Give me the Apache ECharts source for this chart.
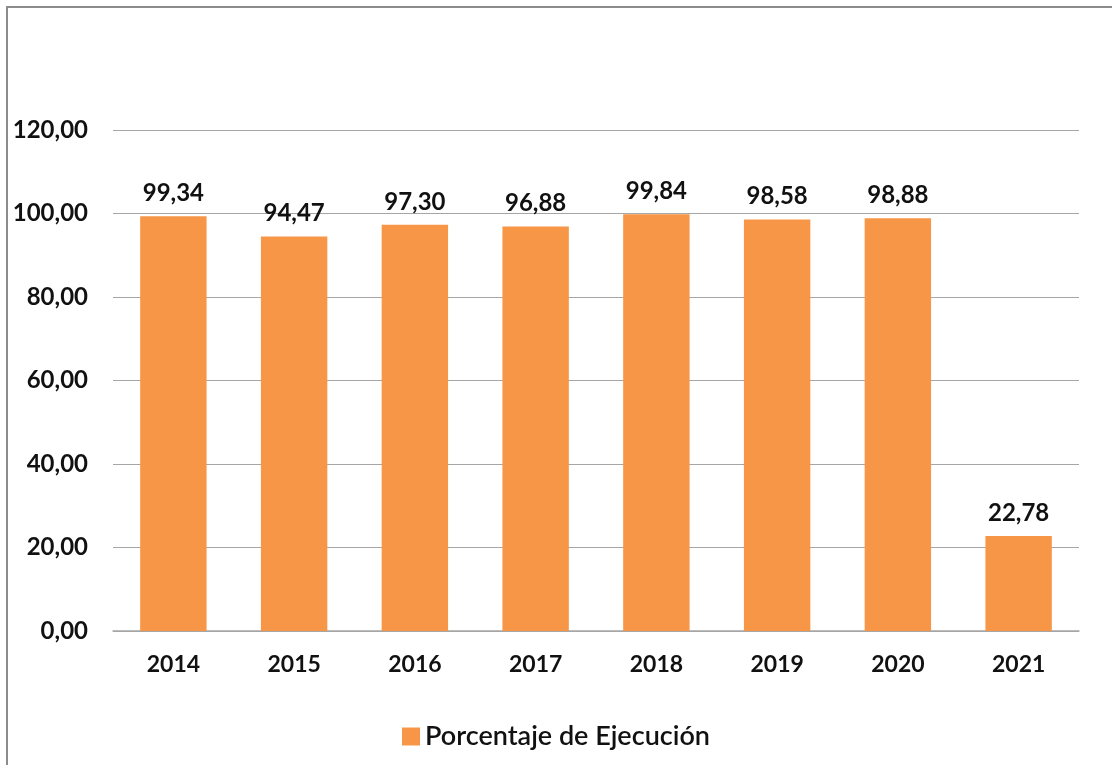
<!DOCTYPE html>
<html>
<head>
<meta charset="utf-8">
<script src="https://cdn.jsdelivr.net/npm/echarts@6/dist/echarts.min.js"></script>
<style>
  html, body { margin: 0; padding: 0; background: #fff; }
  #chart { width: 1112px; height: 765px; }
</style>
</head>
<body>
<div id="chart"></div>
<script>
const years = ['2014', '2015', '2016', '2017', '2018', '2019', '2020', '2021'];
const ejecucion = [99.34, 94.47, 97.30, 96.88, 99.84, 98.58, 98.88, 22.78];

const fmt = v => v.toFixed(2).replace('.', ',');

const myChart = echarts.init(document.getElementById('chart'));

myChart.setOption({
  animation: false,
  textStyle: { fontFamily: 'Lato, "Open Sans", sans-serif' },
  graphic: [{
    type: 'rect',
    shape: { x: 7, y: 7, width: 1200, height: 800 },
    style: { fill: 'none', stroke: '#8c8c8c', lineWidth: 2 },
    silent: true
  }],
  grid: { left: 113, right: 33, top: 130, bottom: 134 },
  legend: {
    bottom: 10,
    left: 'center',
    itemWidth: 18,
    itemHeight: 18,
    itemGap: 8,
    icon: 'rect',
    textStyle: { fontSize: 27, color: '#111', fontWeight: 600 },
    data: ['Porcentaje de Ejecución']
  },
  xAxis: {
    type: 'category',
    data: years,
    axisTick: { show: false },
    axisLine: { lineStyle: { color: '#a6a6a6', width: 1.5 } },
    axisLabel: { fontSize: 23, fontWeight: 'bold', color: '#111', margin: 22 }
  },
  yAxis: {
    type: 'value',
    min: 0,
    max: 120,
    interval: 20,
    axisLine: { show: false },
    axisTick: { show: false },
    splitLine: { lineStyle: { color: '#a6a6a6', width: 1.2 } },
    axisLabel: { fontSize: 24, fontWeight: 'bold', color: '#111', margin: 25, formatter: fmt }
  },
  series: [{
    name: 'Porcentaje de Ejecución',
    type: 'bar',
    data: ejecucion,
    barWidth: '55%',
    itemStyle: { color: '#F79646' },
    label: {
      show: true,
      position: 'top',
      distance: 11,
      fontSize: 24,
      fontWeight: 'bold',
      color: '#111',
      formatter: p => fmt(p.value)
    }
  }]
});
</script>
</body>
</html>
